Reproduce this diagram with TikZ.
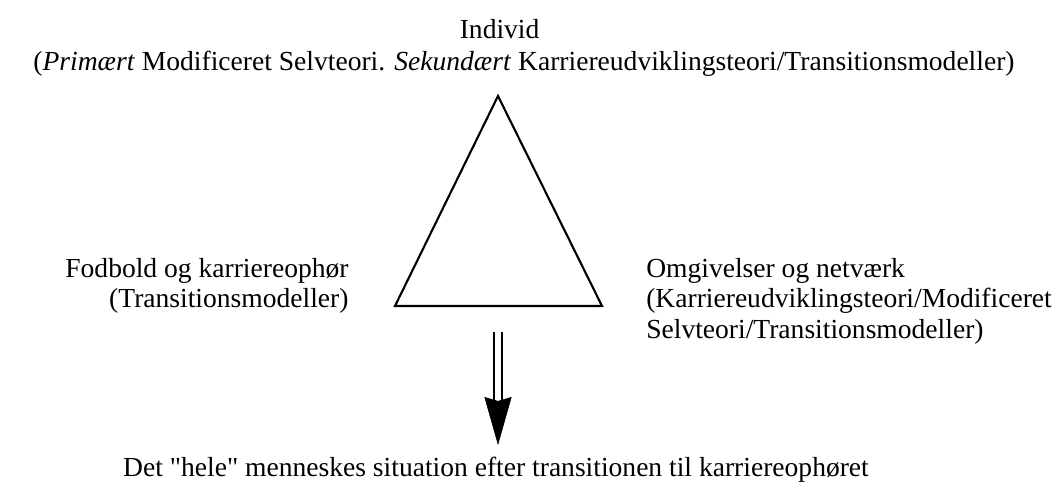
\documentclass[tikz,border=0pt]{standalone}
\usepackage{fontspec}
\setmainfont{Liberation Serif}
\usetikzlibrary{arrows.meta}

\tikzset{
  lbl/.style={inner sep=0pt, font=\fontsize{19.6}{21.5}\selectfont},
  shaft/.style={line width=1.6pt, double distance=4.2pt},
  head/.style={line width=0.4pt, -{Stealth[length=1.2cm, width=0.68cm, inset=0.1cm]}}
}

\begin{document}
\begin{tikzpicture}
        \useasboundingbox (0,0) rectangle (26.55,12.35);
        \draw[line width=1.5pt, line join=miter] (9.875,4.7) -- (12.45,9.95) -- (15.05,4.7) -- cycle;   % triangle
        \coordinate (top) at (12.45,4.05);
        \coordinate (mid) at (12.45,2.3);
        \coordinate (tip) at (12.45,1.225);
        \draw[shaft] (top) -- (mid);   % double shaft
        \draw[head] (mid) -- (tip);    % arrow head
        \node[lbl](individ) at (12.49,11.62) {Individ};
        \node[lbl](indteori) at (13.1,10.75) {(\textit{Primært} Modificeret Selvteori. \textit{Sekundært} Karriereudviklingsteori/Transitionsmodeller)};
        \node[lbl, align=right, anchor=east](fodbold) at (8.72,5.2) {Fodbold og karriereophør\\(Transitionsmodeller)};
        \node[lbl, align=left, anchor=west](omgiv) at (16.15,4.82) {Omgivelser og netværk\\(Karriereudviklingsteori/Modificeret\\Selvteori/Transitionsmodeller)};
        \node[lbl](hele) at (12.4,0.6) {Det \textquotedbl hele\textquotedbl{} menneskes situation efter transitionen til karriereophøret};

    \end{tikzpicture}
\end{document}
